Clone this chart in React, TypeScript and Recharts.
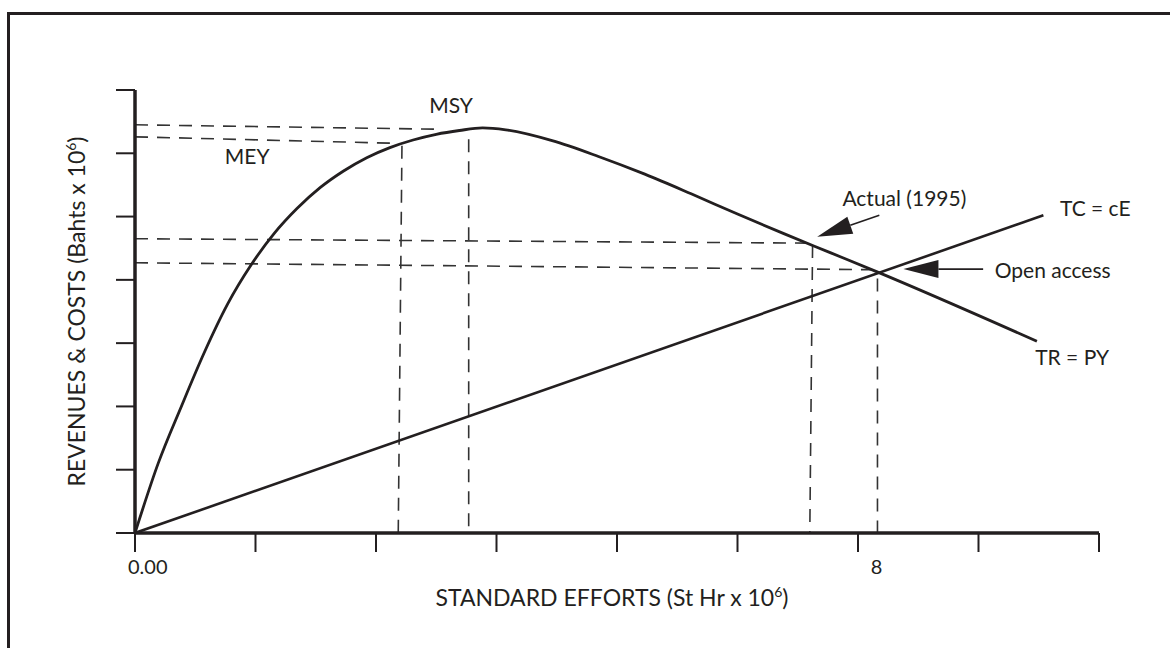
import { LineChart, Line, XAxis, YAxis, ReferenceLine, ReferenceDot } from "recharts";

const INK = "#231f20";
const FONT = "Lato, 'Open Sans', sans-serif";

// effort axis (St Hr x 10^6): eight equal steps, only two values are labelled
const effortTicks = [0, 1.3, 2.6, 3.9, 5.2, 6.5, 7.8, 9.1, 10.4];
const effortLabels = [
  { value: 0, text: "0.00" },
  { value: 8, text: "8" },
];
const revenueTicks = [0, 1, 2, 3, 4, 5, 6, 7];

// total revenue TR = PY
const trEffort = [0, 0.25, 0.5, 0.75, 1, 1.25, 1.5, 1.75, 2, 2.25, 2.5, 2.75, 3, 3.25, 3.5, 3.75, 4, 4.5, 5, 5.5, 6, 6.5, 7, 7.5, 8, 9.73];
const trValue = [0, 1.1, 2.0, 2.86, 3.62, 4.23, 4.73, 5.13, 5.46, 5.72, 5.93, 6.09, 6.21, 6.3, 6.36, 6.4, 6.37, 6.2, 5.95, 5.67, 5.36, 5.04, 4.73, 4.43, 4.13, 3.03];

// total cost TC = cE
const tcEffort = [0, 9.8];
const tcValue = [0, 5.02];

// dashed guides to MSY, MEY, actual (1995) and open access
const guides = [
  [[0, 6.45], [3.29, 6.38]],
  [[3.6, 6.22], [3.6, 0]],
  [[0, 6.26], [2.75, 6.16]],
  [[2.88, 6.12], [2.84, 0]],
  [[0, 4.65], [7.31, 4.58]],
  [[7.31, 4.55], [7.28, 0]],
  [[0, 4.27], [8.01, 4.16]],
  [[8.01, 4.02], [8.01, 0]],
];

const arrows = [
  [[8.03, 5.02], [7.36, 4.68]],
  [[9.15, 4.17], [8.29, 4.17]],
];

const notes = [
  { text: "MSY", x: 3.41, y: 6.75 },
  { text: "MEY", x: 1.21, y: 5.95 },
  { text: "Actual (1995)", x: 8.3, y: 5.28 },
  { text: "TC = cE", x: 10.36, y: 5.12 },
  { text: "Open access", x: 9.9, y: 4.15 },
  { text: "TR = PY", x: 10.11, y: 2.77 },
];

const trData = trEffort.map((x, i) => ({ x, y: trValue[i] }));
const tcData = tcEffort.map((x, i) => ({ x, y: tcValue[i] }));
const xTicks = Array.from(new Set([...effortTicks, ...effortLabels.map((l) => l.value)])).sort((a, b) => a - b);

const EffortTick = (props: any) => {
  const { x, y, payload } = props;
  const v = payload.value;
  const onGrid = effortTicks.some((t) => Math.abs(t - v) < 1e-6);
  const label = effortLabels.find((l) => Math.abs(l.value - v) < 1e-6);
  return (
    <g>
      {onGrid && <line x1={x} y1={y} x2={x} y2={y + 19} stroke={INK} strokeWidth={2} />}
      {label && (
        <text
          x={v === 0 ? x - 7 : x}
          y={y + 41}
          textAnchor={v === 0 ? "start" : "middle"}
          fontFamily={FONT}
          fontSize={20}
          fill={INK}
        >
          {label.text}
        </text>
      )}
    </g>
  );
};

const NoLabel = () => <g />;

const ArrowShape = (props: any) => {
  const { x1, y1, x2, y2 } = props;
  const dx = x2 - x1;
  const dy = y2 - y1;
  const len = Math.hypot(dx, dy) || 1;
  const ux = dx / len;
  const uy = dy / len;
  const hl = 35;
  const hw = 9;
  const bx = x2 - ux * hl;
  const by = y2 - uy * hl;
  const pts = `${x2},${y2} ${bx - uy * hw},${by + ux * hw} ${bx + uy * hw},${by - ux * hw}`;
  return (
    <g>
      <line x1={x1} y1={y1} x2={bx} y2={by} stroke={INK} strokeWidth={1.6} />
      <polygon points={pts} fill={INK} />
    </g>
  );
};

const XTitle = ({ viewBox }: any) => (
  <text
    x={viewBox.x + viewBox.width / 2 - 5}
    y={viewBox.y + 73}
    textAnchor="middle"
    fontFamily={FONT}
    fontSize={23}
    fill={INK}
  >
    STANDARD EFFORTS (St Hr x 10
    <tspan dy={-9} fontSize={14}>6</tspan>
    <tspan dy={9}>)</tspan>
  </text>
);

const YTitle = ({ viewBox }: any) => {
  const cx = viewBox.x + 10;
  const cy = viewBox.y + viewBox.height / 2;
  return (
    <text
      x={cx}
      y={cy}
      transform={`rotate(-90, ${cx}, ${cy})`}
      textAnchor="middle"
      fontFamily={FONT}
      fontSize={23}
      fill={INK}
    >
      REVENUES &amp; COSTS (Bahts x 10
      <tspan dy={-9} fontSize={14}>6</tspan>
      <tspan dy={9}>)</tspan>
    </text>
  );
};

export default function App() {
  return (
    <div
      style={{
        position: "fixed",
        left: 0,
        top: 0,
        width: 1170,
        height: 648,
        background: "#fff",
        overflow: "hidden",
      }}
    >
      <div
        style={{
          position: "absolute",
          left: 7,
          top: 12,
          width: 1300,
          height: 800,
          border: `3px solid ${INK}`,
        }}
      />
      <div style={{ position: "absolute", left: 0, top: 0 }}>
        <LineChart width={1170} height={648} margin={{ top: 90, right: 71, bottom: 75, left: 75 }}>
          <XAxis
            type="number"
            dataKey="x"
            domain={[0, 10.4]}
            ticks={xTicks}
            interval={0}
            tickSize={0}
            tickMargin={0}
            tickLine={false}
            tick={EffortTick}
            axisLine={{ stroke: INK, strokeWidth: 3.5 }}
            height={40}
            allowDataOverflow
            label={(p: any) => <XTitle viewBox={p.viewBox} />}
          />
          <YAxis
            type="number"
            domain={[0, 7]}
            ticks={revenueTicks}
            interval={0}
            tickSize={19}
            tick={NoLabel}
            tickLine={{ stroke: INK, strokeWidth: 2 }}
            axisLine={{ stroke: INK, strokeWidth: 3.5 }}
            width={60}
            allowDataOverflow
            label={(p: any) => <YTitle viewBox={p.viewBox} />}
          />
          {guides.map((g, i) => (
            <ReferenceLine
              key={`g${i}`}
              segment={[
                { x: g[0][0], y: g[0][1] },
                { x: g[1][0], y: g[1][1] },
              ]}
              stroke="#333"
              strokeWidth={1.6}
              strokeDasharray="13 9"
            />
          ))}
          <Line
            data={trData}
            dataKey="y"
            type="monotone"
            stroke={INK}
            strokeWidth={2.8}
            dot={false}
            activeDot={false}
            isAnimationActive={false}
          />
          <Line
            data={tcData}
            dataKey="y"
            type="linear"
            stroke={INK}
            strokeWidth={2.6}
            dot={false}
            activeDot={false}
            isAnimationActive={false}
          />
          {arrows.map((a, i) => (
            <ReferenceLine
              key={`a${i}`}
              segment={[
                { x: a[0][0], y: a[0][1] },
                { x: a[1][0], y: a[1][1] },
              ]}
              shape={ArrowShape}
            />
          ))}
          {notes.map((n) => (
            <ReferenceDot
              key={n.text}
              x={n.x}
              y={n.y}
              r={0}
              stroke="none"
              fill="none"
              label={{ value: n.text, position: "center", fill: INK, fontSize: 21, fontFamily: FONT }}
            />
          ))}
        </LineChart>
      </div>
    </div>
  );
}
